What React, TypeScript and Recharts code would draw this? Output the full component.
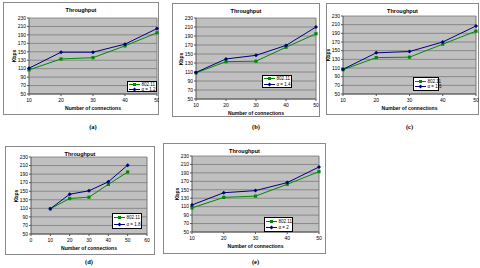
import React from 'react';
import { LineChart, Line, XAxis, YAxis, CartesianGrid, ReferenceLine, Legend } from 'recharts';

// Shared axis values
const connections = [10, 20, 30, 40, 50];
const connectionsWide = [0, 10, 20, 30, 40, 50, 60];
const kbpsTicks = [50, 70, 90, 110, 130, 150, 170, 190, 210, 230];

// Throughput (Kbps) of plain 802.11 in each experiment
const ieeeA = [107, 133, 136, 164, 195];
const ieeeB = [108, 133, 134, 165, 195];
const ieeeC = [106, 134, 135, 165, 195];
const ieeeD = [109, 133, 136, 166, 195];
const ieeeE = [107, 132, 135, 163, 193];

// Throughput (Kbps) of the modified scheme for each alpha
const alphaA = [111, 149, 149, 168, 205];
const alphaB = [109, 139, 147, 169, 210];
const alphaC = [107, 145, 148, 170, 207];
const alphaD = [109, 143, 151, 172, 211];
const alphaE = [114, 143, 148, 167, 204];

const alphaNames = ['α = 1.2', 'α = 1.4', 'α = 1.6', 'α = 1.8', 'α = 2'];
const captions = ['(a)', '(b)', '(c)', '(d)', '(e)'];

const GREEN = '#008a00';
const NAVY = '#000080';
const FONT = 'Arial, "Liberation Sans", sans-serif';

type Box = { x: number; y: number; w: number; h: number };
type Plot = { l: number; r: number; t: number; b: number };

type PanelSpec = {
  caption: string;
  captionY: number;
  altName: string;
  base: number[];
  alt: number[];
  xTicks: number[];
  frame: Box;
  plot: Plot;
  legend: Box;
};

const panels: PanelSpec[] = [
  {
    caption: captions[0], captionY: 127, altName: alphaNames[0], base: ieeeA, alt: alphaA, xTicks: connections,
    frame: { x: 3, y: 2, w: 156, h: 113 }, plot: { l: 29, r: 157, t: 18, b: 94 },
    legend: { x: 124, y: 79, w: 30, h: 11 },
  },
  {
    caption: captions[1], captionY: 127, altName: alphaNames[1], base: ieeeB, alt: alphaB, xTicks: connections,
    frame: { x: 172, y: 3, w: 148, h: 114 }, plot: { l: 196, r: 316, t: 18, b: 99 },
    legend: { x: 90, y: 72, w: 30, h: 13 },
  },
  {
    caption: captions[2], captionY: 127, altName: alphaNames[2], base: ieeeC, alt: alphaC, xTicks: connections,
    frame: { x: 326, y: 3, w: 153, h: 112 }, plot: { l: 343, r: 476, t: 16, b: 94 },
    legend: { x: 87, y: 74, w: 26, h: 14 },
  },
  {
    caption: captions[3], captionY: 262, altName: alphaNames[3], base: ieeeD, alt: alphaD, xTicks: connectionsWide,
    frame: { x: 5, y: 146, w: 150, h: 109 }, plot: { l: 31, r: 147, t: 157, b: 234 },
    legend: { x: 107, y: 67, w: 30, h: 16 },
  },
  {
    caption: captions[4], captionY: 262, altName: alphaNames[4], base: ieeeE, alt: alphaE, xTicks: connections,
    frame: { x: 163, y: 143, w: 163, h: 111 }, plot: { l: 192, r: 319, t: 156, b: 232 },
    legend: { x: 101, y: 74, w: 29, h: 15 },
  },
];

const SquareDot = (props: any) => {
  const { cx, cy } = props;
  if (cx == null || cy == null) return null;
  return <rect x={cx - 1.6} y={cy - 1.6} width={3.2} height={3.2} fill={GREEN} />;
};

const DiamondDot = (props: any) => {
  const { cx, cy } = props;
  if (cx == null || cy == null) return null;
  const s = 2;
  return <polygon points={`${cx},${cy - s} ${cx + s},${cy} ${cx},${cy + s} ${cx - s},${cy}`} fill={NAVY} />;
};

const LegendBox = ({ payload }: any) => (
  <div
    style={{
      width: '100%', height: '100%', boxSizing: 'border-box', background: '#fff',
      border: '1px solid #000', display: 'flex', flexDirection: 'column', justifyContent: 'space-evenly',
      padding: '0 1px', fontFamily: FONT, fontSize: 4.5, color: '#000',
    }}
  >
    {(payload || []).map((p: any) => (
      <div key={p.value} style={{ display: 'flex', alignItems: 'center', lineHeight: '5px', whiteSpace: 'nowrap' }}>
        <svg width={11} height={5} style={{ flex: 'none', marginRight: 1.5 }}>
          <line x1={0} y1={2.5} x2={11} y2={2.5} stroke={p.color} strokeWidth={1} />
          {p.color === GREEN ? (
            <rect x={4} y={1} width={3} height={3} fill={GREEN} />
          ) : (
            <polygon points="5.5,0.5 7.5,2.5 5.5,4.5 3.5,2.5" fill={NAVY} />
          )}
        </svg>
        <span>{p.value}</span>
      </div>
    ))}
  </div>
);

const YW = 16;
const XH = 10;

function Panel({ spec }: { spec: PanelSpec }) {
  const { frame, plot, legend, xTicks } = spec;
  const rows = connections.map((n, i) => ({ n, ieee: spec.base[i], alpha: spec.alt[i] }));
  const xMin = xTicks[0];
  const xMax = xTicks[xTicks.length - 1];
  const margin = {
    left: plot.l - frame.x - YW,
    top: plot.t - frame.y,
    right: frame.x + frame.w - plot.r,
    bottom: frame.y + frame.h - plot.b - XH,
  };
  const plotMidX = (plot.l + plot.r) / 2 - frame.x;
  const plotMidY = (plot.t + plot.b) / 2 - frame.y;
  const tickStyle = { fontSize: 5, fill: '#000', fontFamily: FONT };

  return (
    <>
      <div
        style={{
          position: 'absolute', left: frame.x, top: frame.y, width: frame.w, height: frame.h,
          boxSizing: 'border-box', border: '1px solid #8a8a8a', background: '#fff',
        }}
      />
      <div style={{ position: 'absolute', left: frame.x, top: frame.y, width: frame.w, height: frame.h }}>
        <LineChart width={frame.w} height={frame.h} data={rows} margin={margin}>
          <CartesianGrid fill="#c0c0c0" vertical={false} stroke="#7a7a7a" strokeWidth={0.8} />
          <XAxis
            dataKey="n" type="number" domain={[xMin, xMax]} ticks={xTicks} interval={0}
            height={XH} tick={tickStyle} tickSize={2} tickMargin={2}
            stroke="#555" axisLine={{ stroke: '#555' }}
          />
          <YAxis
            type="number" domain={[50, 230]} ticks={kbpsTicks} interval={0}
            width={YW} tick={tickStyle} tickSize={2} tickMargin={1}
            stroke="#555" axisLine={{ stroke: '#555' }}
          />
          <ReferenceLine x={xMax} stroke="#7a7a7a" strokeWidth={1} />
          <Line
            dataKey="ieee" name="802.11" stroke={GREEN} strokeWidth={1}
            dot={SquareDot} activeDot={false} isAnimationActive={false}
          />
          <Line
            dataKey="alpha" name={spec.altName} stroke={NAVY} strokeWidth={1}
            dot={DiamondDot} activeDot={false} isAnimationActive={false}
          />
          <Legend
            layout="vertical" align="center" verticalAlign="middle"
            content={LegendBox}
            wrapperStyle={{ left: legend.x, top: legend.y, width: legend.w, height: legend.h, bottom: 'auto', right: 'auto' }}
          />
        </LineChart>
        <div
          style={{
            position: 'absolute', left: 0, width: frame.w, top: 5, textAlign: 'center',
            fontFamily: FONT, fontSize: 5.5, fontWeight: 'bold', lineHeight: '7px', color: '#000',
          }}
        >
          Throughput
        </div>
        <div
          style={{
            position: 'absolute', left: plot.l - frame.x - 25, top: plotMidY - 3, width: 20, height: 6,
            transform: 'rotate(-90deg)', textAlign: 'center', fontFamily: FONT, fontSize: 5,
            fontWeight: 'bold', lineHeight: '6px', color: '#000',
          }}
        >
          Kbps
        </div>
        <div
          style={{
            position: 'absolute', left: plotMidX - 40, width: 80, top: plot.b - frame.y + 11,
            textAlign: 'center', fontFamily: FONT, fontSize: 5, fontWeight: 'bold', lineHeight: '6px', color: '#000',
          }}
        >
          Number of connections
        </div>
      </div>
      <div
        style={{
          position: 'absolute', left: (plot.l + plot.r) / 2 - 20, width: 40,
          top: spec.captionY - 4, textAlign: 'center', fontFamily: '"Liberation Serif", serif',
          fontSize: 6.5, fontWeight: 'bold', lineHeight: '8px', color: '#000',
        }}
      >
        {spec.caption}
      </div>
    </>
  );
}

export default function App() {
  return (
    <div style={{ position: 'absolute', left: 0, top: 0, width: 480, height: 268, background: '#fff', overflow: 'hidden' }}>
      {panels.map((p) => (
        <Panel key={p.caption} spec={p} />
      ))}
    </div>
  );
}
